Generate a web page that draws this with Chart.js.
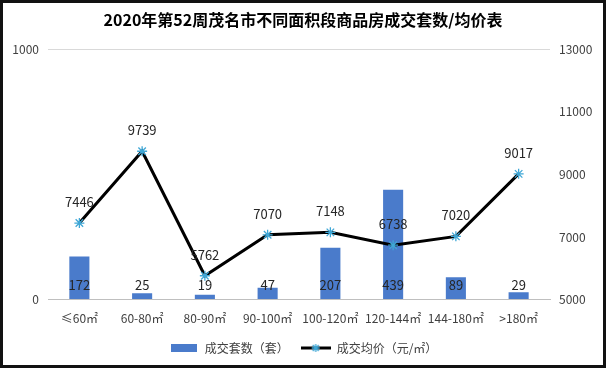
<!DOCTYPE html>
<html><head><meta charset="utf-8">
<script src="https://cdn.jsdelivr.net/npm/chart.js@4/dist/chart.umd.min.js"></script>
<style>html,body{margin:0;padding:0;background:#fff}#wrap{width:606px;height:368px;position:relative}</style>
</head><body><div id="wrap"><canvas id="c" width="606" height="368"></canvas></div>
<script>
const categories = ['≤60㎡','60-80㎡','80-90㎡','90-100㎡','100-120㎡','120-144㎡','144-180㎡','>180㎡'];
const unitsSold = [172, 25, 19, 47, 207, 439, 89, 29];
const avgPrice = [7446, 9739, 5762, 7070, 7148, 6738, 7020, 9017];
const leftTicks = [0, 1000];
const rightTicks = [5000, 7000, 9000, 11000, 13000];
const titleText = '2020年第52周茂名市不同面积段商品房成交套数/均价表';
const barLabel = '成交套数（套）';
const lineLabel = '成交均价（元/㎡）';

const BAR = '#4A7BCB', STAR = '#3FA7D6';
const FONT = "'Noto Sans CJK SC','Noto Sans',sans-serif";

function drawStar(ctx, x, y, r) {
  ctx.save(); ctx.strokeStyle = STAR; ctx.lineWidth = 1.3; ctx.beginPath();
  ctx.moveTo(x - r, y); ctx.lineTo(x + r, y);
  ctx.moveTo(x, y - r); ctx.lineTo(x, y + r);
  const d = r * 0.75;
  ctx.moveTo(x - d, y - d); ctx.lineTo(x + d, y + d);
  ctx.moveTo(x - d, y + d); ctx.lineTo(x + d, y - d);
  ctx.stroke(); ctx.restore();
}
const barIcon = document.createElement('canvas'); barIcon.width = 26; barIcon.height = 8;
(function(){const c = barIcon.getContext('2d'); c.fillStyle = BAR; c.fillRect(0,0,26,8);})();
const lineIcon = document.createElement('canvas'); lineIcon.width = 30; lineIcon.height = 10;
(function(){const c = lineIcon.getContext('2d'); c.strokeStyle='#000'; c.lineWidth=3; c.beginPath(); c.moveTo(0,5); c.lineTo(30,5); c.stroke(); drawStar(c,15,5,4);})();

const starPlugin = {
  id: 'extras',
  beforeDraw(chart) {
    const ctx = chart.ctx; ctx.save(); ctx.fillStyle = '#fff'; ctx.fillRect(0,0,chart.width,chart.height);
    ctx.strokeStyle = '#111'; ctx.lineWidth = 5; ctx.strokeRect(0.5,0.5,chart.width-1,chart.height-1); ctx.restore();
  },
  afterDatasetsDraw(chart) {
    const ctx = chart.ctx;
    const lineMeta = chart.getDatasetMeta(1);
    lineMeta.data.forEach(p => drawStar(ctx, p.x, p.y, 5));
    ctx.save(); ctx.font = '13px ' + FONT; ctx.fillStyle = '#262626'; ctx.textAlign = 'center'; ctx.textBaseline = 'middle';
    const barMeta = chart.getDatasetMeta(0); const y0 = chart.scales.y.getPixelForValue(0);
    barMeta.data.forEach((b, i) => ctx.fillText(String(unitsSold[i]), b.x, y0 - 15));
    lineMeta.data.forEach((p, i) => ctx.fillText(String(avgPrice[i]), p.x, p.y - 21));
    ctx.restore();
  }
};

new Chart(document.getElementById('c'), {
  data: {
    labels: categories,
    datasets: [
      { type: 'bar', label: barLabel, data: unitsSold, backgroundColor: BAR, yAxisID: 'y', barPercentage: 0.64, categoryPercentage: 0.5, order: 2 },
      { type: 'line', label: lineLabel, data: avgPrice, borderColor: '#000', borderWidth: 3, pointRadius: 0, yAxisID: 'y1', tension: 0, order: 1 }
    ]
  },
  options: {
    responsive: false, animation: false,
    layout: { padding: { top: 0, bottom: 4, left: 0, right: 0 } },
    plugins: {
      title: { display: true, text: titleText, color: '#000', font: { family: FONT, size: 16, weight: 'bold' }, padding: { top: 10, bottom: 20 } },
      legend: { position: 'bottom', labels: { usePointStyle: true, pointStyleWidth: 30, color: '#404040', font: { family: FONT, size: 12 }, boxWidth: 30, boxHeight: 10, padding: 12,
        generateLabels: () => [
          { text: barLabel, pointStyle: barIcon, fontColor: '#404040', datasetIndex: 0 },
          { text: lineLabel, pointStyle: lineIcon, fontColor: '#404040', datasetIndex: 1 }
        ] } },
      tooltip: { enabled: false }
    },
    scales: {
      x: { grid: { display: false }, border: { color: '#BFBFBF' }, ticks: { color: '#404040', font: { family: FONT, size: 12 }, maxRotation: 0, padding: 4 } },
      y: { position: 'left', min: 0, max: 1000, afterBuildTicks: s => { s.ticks = leftTicks.map(v => ({ value: v })); },
        grid: { color: '#D9D9D9', drawTicks: false }, border: { display: false },
        ticks: { color: '#404040', font: { family: FONT, size: 12 }, padding: 9, callback: v => String(v) }, afterFit: s => { s.width = 48; } },
      y1: { position: 'right', min: 5000, max: 13000, afterBuildTicks: s => { s.ticks = rightTicks.map(v => ({ value: v })); },
        grid: { display: false, drawTicks: false }, border: { display: false },
        ticks: { color: '#404040', font: { family: FONT, size: 12 }, padding: 9, callback: v => String(v) }, afterFit: s => { s.width = 56; } }
    }
  },
  plugins: [starPlugin]
});
</script></body></html>
